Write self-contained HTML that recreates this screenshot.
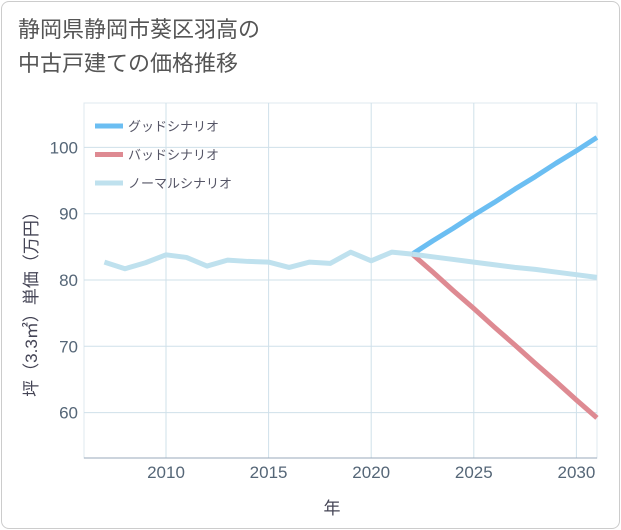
<!DOCTYPE html>
<html><head><meta charset="utf-8"><style>
body{margin:0;background:#fff;font-family:"Liberation Sans","Noto Sans CJK JP",sans-serif}
#card{position:absolute;left:1px;top:1px;width:617px;height:526px;border:1px solid #ccc;border-radius:8px;background:#fff}
#title{position:absolute;left:18px;top:13px;font-size:22px;line-height:34px;color:#555}
svg{position:absolute;left:0;top:0}
</style></head><body>
<div id="card"></div>
<div id="title">静岡県静岡市葵区羽高の<br>中古戸建ての価格推移</div>
<svg id="chart" width="621" height="530"></svg>
<script>
const histYears=[2007,2008,2009,2010,2011,2012,2013,2014,2015,2016,2017,2018,2019,2020,2021,2022];
const histValues=[82.7,81.7,82.6,83.8,83.4,82.1,83.0,82.8,82.7,81.9,82.7,82.5,84.2,82.9,84.2,83.9];
const futYears=[2022,2023,2024,2025,2026,2027,2028,2029,2030,2031];
const goodValues=[83.9,85.9,87.8,89.8,91.7,93.7,95.6,97.6,99.5,101.5];
const badValues=[83.9,81.2,78.4,75.7,72.9,70.2,67.4,64.7,61.9,59.2];
const normalValues=[83.9,83.5,83.1,82.7,82.3,81.9,81.6,81.2,80.8,80.4];
const xTicks=[2010,2015,2020,2025,2030];
const yTicks=[60,70,80,90,100];
const legendLabels=["グッドシナリオ","バッドシナリオ","ノーマルシナリオ"];
const NS="http://www.w3.org/2000/svg",svg=document.getElementById('chart');
const L=84,R=597,T=103,B=458;
const x=v=>166+(v-2010)*20.52;
const y=v=>280-(v-80)*6.63;
function mk(t,a,p){const e=document.createElementNS(NS,t);for(const k in a)e.setAttribute(k,a[k]);(p||svg).appendChild(e);return e;}
mk('rect',{x:L,y:T,width:R-L,height:B-T,fill:'none',stroke:'#dfe8ef'});
xTicks.forEach(t=>{const g=mk('line',{x1:x(t),x2:x(t),y1:T,y2:B,stroke:'#cfe0ea'});

const tx=mk('text',{x:x(t),y:478,'text-anchor':'middle','font-size':17,fill:'#567'});tx.textContent=t;
});
yTicks.forEach(t=>{const g=mk('line',{x1:L,x2:R,y1:y(t),y2:y(t),stroke:'#cfe0ea'});

const tx=mk('text',{x:78,y:y(t)+6,'text-anchor':'end','font-size':17,fill:'#567'});tx.textContent=t;
});
mk('line',{x1:L,x2:R,y1:B,y2:B,stroke:'#9ab'});
function line(xs,vs,c,n){const p=mk('polyline',{points:xs.map((t,i)=>x(t)+','+y(vs[i])).join(' '),fill:'none',stroke:c,'stroke-width':5,'stroke-linejoin':'round'});
}
line(futYears,goodValues,'#6bbef2','good-scenario-line');
line(futYears,badValues,'#de8a92','bad-scenario-line');
line(histYears,histValues,'#bfe1ee','history-line');
line(futYears,normalValues,'#bfe1ee','normal-scenario-line');
const cols=['#6bbef2','#de8a92','#bfe1ee'];
legendLabels.forEach((s,i)=>{const yy=126+i*28.5;
const l=mk('line',{x1:95,x2:123,y1:yy,y2:yy,stroke:cols[i],'stroke-width':5});

const t=mk('text',{x:128,y:yy+5,'font-size':13,fill:'#556'});t.textContent=s;
});
const xl=mk('text',{x:332,y:514,'text-anchor':'middle','font-size':17,fill:'#445'});xl.textContent='年';

const yl=mk('text',{x:0,y:0,'text-anchor':'middle','font-size':17,fill:'#445',transform:'translate(37,300) rotate(-90)'});yl.textContent='坪（3.3㎡）単価（万円）';

</script>
</body></html>
